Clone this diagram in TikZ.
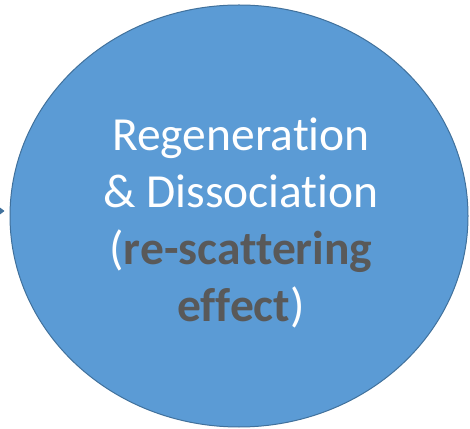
\documentclass[tikz,border=0pt]{standalone}
\usepackage{fontspec}
\setmainfont[Ligatures=NoCommon]{Carlito}
\usetikzlibrary{arrows.meta, positioning, shapes.geometric}

\definecolor{officeblue}{HTML}{5B9BD5}
\definecolor{officeline}{HTML}{41719C}
\definecolor{darktext}{HTML}{595959}

\begin{document}
\begin{tikzpicture}[
		% style for the big ellipse
		stage/.style={
			ellipse,
			draw=officeline,
			fill=officeblue,
			line width=1pt,
			minimum width=458pt,
			minimum height=422pt,
			inner sep=0pt
		},
		% style for the text inside it
		caption/.style={
			align=center,
			text=white,
			inner sep=0pt,
			font=\fontsize{47.5}{57}\selectfont
		},
		% style for the incoming arrow
		link/.style={
			-{Stealth[length=6pt, width=9pt]},
			draw=officeline,
			line width=1.5pt
		}
	]
	
	% page frame
	\clip (0,0) rectangle (470pt,428pt);
	\useasboundingbox (0,0) rectangle (470pt,428pt);
	
	% the stage and its text
	\node[stage] (regen) at (239pt,212pt) {};
	\node[caption] (regentext) at ([xshift=2pt, yshift=-7pt]regen.center) {
		Regeneration\\
		\& Dissociation\\
		(\textbf{\textcolor{darktext}{re-scattering}}\\
		\textbf{\textcolor{darktext}{effect}})
	};
	
	% arrow coming in from the left
	\coordinate (incoming) at (-30pt,217pt);
	\draw[link, shorten >=5pt] (incoming) -- (regen.west |- incoming);
	
\end{tikzpicture}
\end{document}
